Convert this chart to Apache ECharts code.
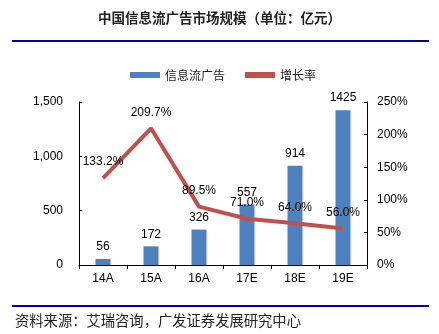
<!DOCTYPE html>
<html><head><meta charset="utf-8">
<script src="https://cdn.jsdelivr.net/npm/echarts@6/dist/echarts.min.js"></script>
<style>html,body{margin:0;padding:0;background:#fff}#c{width:439px;height:334px}</style>
</head><body><div id="c"></div>
<script>
const categories = ['14A','15A','16A','17E','18E','19E'];
const adValues = [56,172,326,557,914,1425];
const growthRates = [133.2,209.7,89.5,71.0,64.0,56.0];
const leftTicks = [0,500,1000,1500];
const rightTicks = [0,50,100,150,200,250];

const chart = echarts.init(document.getElementById('c'));
const font = 'Liberation Sans, Arial, sans-serif';
const cjk = '"Noto Sans CJK SC", sans-serif';
chart.setOption({
  animation:false,
  title:{text:'中国信息流广告市场规模（单位：亿元）',left:'center',top:6,
    textStyle:{fontFamily:cjk,fontSize:13.5,fontWeight:'bold',color:'#222'}},
  legend:{top:64,left:125,itemGap:20,itemWidth:30,itemHeight:6,
    textStyle:{fontFamily:cjk,fontSize:12,color:'#222'},
    data:[{name:'信息流广告',icon:'rect'},{name:'增长率',icon:'rect',itemStyle:{color:'#C0504D'}}]},
  grid:{left:79,right:72,top:102,bottom:69},
  xAxis:{type:'category',data:categories,
    axisLine:{lineStyle:{color:'#000'}},
    axisTick:{show:true,length:4,lineStyle:{color:'#000'}},
    axisLabel:{fontFamily:font,fontSize:12,color:'#000',margin:8}},
  yAxis:[
    {type:'value',min:0,max:1500,interval:500,
     axisLine:{show:true,lineStyle:{color:'#000'}},
     axisTick:{show:true,inside:true,length:3,lineStyle:{color:'#000'}},
     splitLine:{show:false},
     axisLabel:{fontFamily:font,fontSize:12,color:'#000',margin:16,
       formatter:v=>v.toLocaleString('en-US')}},
    {type:'value',min:0,max:250,interval:50,
     axisLine:{show:true,lineStyle:{color:'#000'}},
     axisTick:{show:true,inside:true,length:3,lineStyle:{color:'#000'}},
     splitLine:{show:false},
     axisLabel:{fontFamily:font,fontSize:12,color:'#000',margin:10,formatter:'{value}%'}}
  ],
  series:[
    {name:'信息流广告',type:'bar',data:adValues,barWidth:15,
     itemStyle:{color:'#4F81BD'},
     label:{show:true,position:'top',distance:6,fontFamily:font,fontSize:12,color:'#000'}},
    {name:'增长率',type:'line',yAxisIndex:1,data:growthRates,symbol:'circle',symbolSize:0.1,showSymbol:true,
     lineStyle:{color:'#C0504D',width:4},itemStyle:{color:'#C0504D'},
     label:{show:true,position:'top',distance:10,fontFamily:font,fontSize:12,color:'#000',
       formatter:p=>p.value.toFixed(1)+'%'}}
  ],
  graphic:[
    {type:'rect',shape:{x:12,y:40,width:417,height:2},style:{fill:'#0000AA'}},
    {type:'rect',shape:{x:12,y:305,width:417,height:2},style:{fill:'#0000AA'}},
    {type:'text',left:15,top:313,style:{text:'资料来源：艾瑞咨询，广发证券发展研究中心',
      font:'14.3px "Noto Sans CJK SC", sans-serif',fill:'#222'}}
  ]
});
</script></body></html>
